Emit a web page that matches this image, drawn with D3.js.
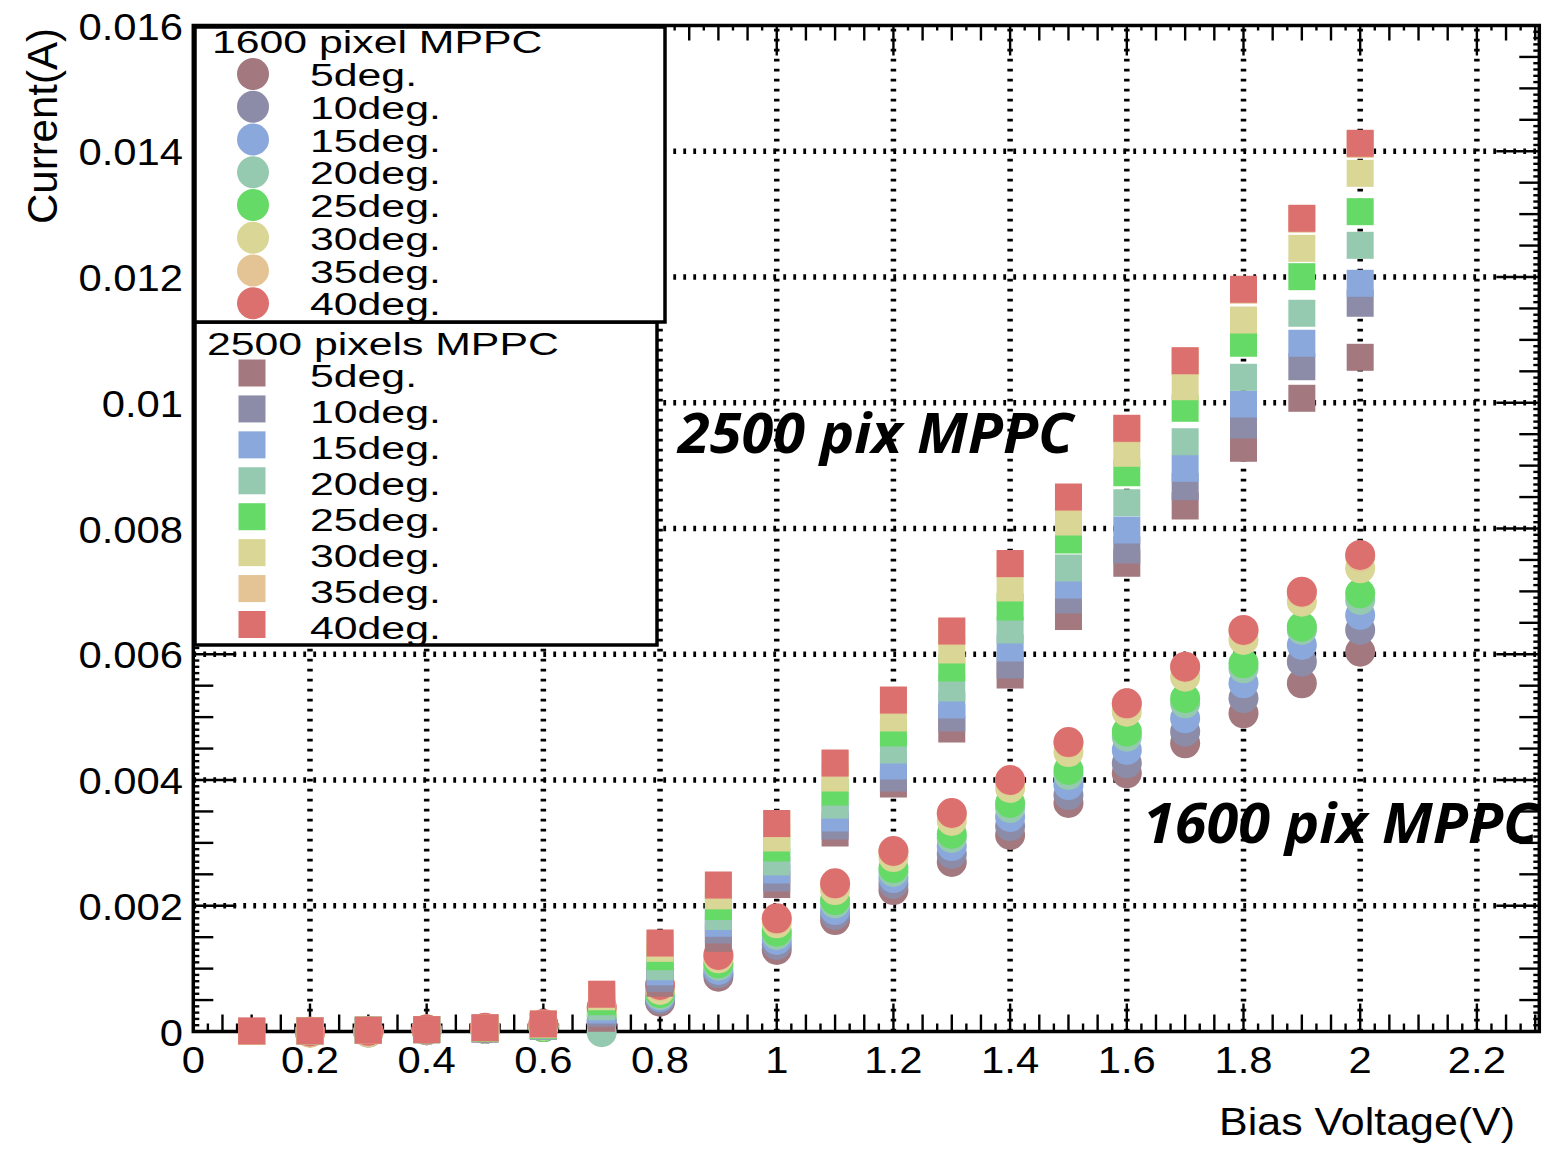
<!DOCTYPE html>
<html>
<head>
<meta charset="utf-8">
<script src="https://cdn.jsdelivr.net/npm/d3@7"></script>
<style>
  body { margin: 0; background: #fff; }
  svg { display: block; }
  text { font-family: "Liberation Sans", Arial, Helvetica, sans-serif; fill: #000; }
</style>
</head>
<body>
<svg id="chart" width="1561" height="1149"></svg>
<script>
// ---- data -------------------------------------------------------------
// bias voltage points (V)
const volt2500 = [0.1,0.2,0.3,0.4,0.5,0.6,0.7,0.8,0.9,1.0,1.1,1.2,1.3,1.4,1.5,1.6,1.7,1.8,1.9,2.0];
const volt1600 = [0.2,0.3,0.4,0.5,0.6,0.7,0.8,0.9,1.0,1.1,1.2,1.3,1.4,1.5,1.6,1.7,1.8,1.9,2.0];

const angleLabels = ["5deg.","10deg.","15deg.","20deg.","25deg.","30deg.","35deg.","40deg."];
const angleColors = ["#a3787f","#8c8ca8","#8aa8dc","#96cab0","#66da66","#dad696","#e4c494","#dc706e"];

// 1600 pixel MPPC current (A), one array per temperature
const i1600_05 = [-0.00001,0,0.00002,0.00004,0.00007,0.00012,0.000474,0.000872,0.001296,0.001773,0.00225,0.002696,0.003125,0.003634,0.004107,0.004584,0.005061,0.005538,0.006041];
const i1600_10 = [-0.00001,0,0.00002,0.00004,0.00007,0.00015,0.000509,0.000926,0.001376,0.001853,0.002346,0.002823,0.003268,0.003761,0.004266,0.004768,0.0053,0.005882,0.006386];
const i1600_15 = [-0.00001,-0.00002,0.00002,0.00004,0.00008,0.00018,0.000549,0.000978,0.001455,0.001932,0.002441,0.00295,0.003412,0.00392,0.004477,0.004981,0.005538,0.006147,0.006624];
const i1600_20 = [-0.00001,0,0.00002,0.00004,0.00008,-0.00001,0.000581,0.001047,0.001535,0.002039,0.002537,0.003078,0.003555,0.00408,0.004689,0.00522,0.005777,0.006386,0.006863];
const i1600_25 = [-0.00001,0,0.00003,0.00005,0.00007,0.00026,0.000612,0.001085,0.001587,0.002091,0.0026,0.003141,0.003634,0.004159,0.004768,0.0053,0.005856,0.006438,0.006969];
const i1600_30 = [-0.00002,-0.00002,0.00003,0.00005,0.00009,0.00031,0.00066,0.001164,0.001721,0.00225,0.002775,0.003348,0.003873,0.004445,0.005086,0.005643,0.006227,0.006836,0.007367];
const i1600_35 = [-0.00002,-0.00001,0.00003,0.00005,0.0001,0.00036,0.00072,0.0012,0.00178,0.00234,0.00286,0.00346,0.00399,0.00459,0.0052,0.00579,0.00637,0.00698,0.00755];
const i1600_40 = [0,0.00001,0.00003,0.00006,0.00012,0.00039,0.00074,0.001217,0.0018,0.002357,0.002871,0.003475,0.004,0.004604,0.00522,0.005802,0.006386,0.006995,0.007579];

// 2500 pixels MPPC current (A), one array per temperature
const i2500_05 = [0,0.00001,0.00002,0.00003,0.00004,0.00008,0.00021,0.000767,0.001482,0.002338,0.003157,0.003936,0.004811,0.00567,0.0066,0.007447,0.008358,0.009276,0.010071,0.010723];
const i2500_10 = [0,0.00001,0.00002,0.00003,0.00004,0.00008,0.000289,0.000846,0.001614,0.002441,0.003268,0.004032,0.004986,0.005829,0.006863,0.007658,0.008665,0.009646,0.010573,0.011582];
const i2500_15 = [0,0.00001,0.00002,0.00003,0.00005,0.00009,0.000342,0.000951,0.001721,0.002569,0.003396,0.004223,0.005193,0.0061,0.007101,0.007976,0.008957,0.00998,0.010946,0.0119];
const i2500_20 = [0,0.00001,0.00002,0.00003,0.00005,0.00009,0.000394,0.001031,0.001829,0.002696,0.003602,0.004477,0.005463,0.006386,0.007372,0.00841,0.00938,0.010405,0.011423,0.012504];
const i2500_25 = [0,0.00001,0.00002,0.00003,0.00005,0.0001,0.000474,0.00119,0.001988,0.002918,0.003809,0.004748,0.005781,0.006751,0.007817,0.008887,0.009912,0.010946,0.012005,0.013039];
const i2500_30 = [0,0.00001,0.00002,0.00003,0.00006,0.00011,0.000553,0.001323,0.002158,0.003078,0.004032,0.004986,0.006068,0.007054,0.008103,0.009196,0.010255,0.011316,0.012456,0.013649];
const i2500_35 = [0,0.00001,0.00002,0.00003,0.00006,0.00012,0.00059,0.0014,0.00232,0.0033,0.00426,0.00526,0.00636,0.00743,0.00849,0.00958,0.01066,0.01179,0.01292,0.01411];
const i2500_40 = [0.00001,0.00001,0.00002,0.00003,0.00006,0.00012,0.000593,0.001408,0.00233,0.003308,0.00427,0.005272,0.00637,0.007443,0.008501,0.009594,0.010669,0.011805,0.012934,0.014127];

const series1600 = [i1600_05,i1600_10,i1600_15,i1600_20,i1600_25,i1600_30,i1600_35,i1600_40];
const series2500 = [i2500_05,i2500_10,i2500_15,i2500_20,i2500_25,i2500_30,i2500_35,i2500_40];

// axis tick labels
const xTickLabels = ["0","0.2","0.4","0.6","0.8","1","1.2","1.4","1.6","1.8","2","2.2"];
const yTickLabels = ["0","0.002","0.004","0.006","0.008","0.01","0.012","0.014","0.016"];

// ---- layout -----------------------------------------------------------
const svg = d3.select("#chart");
const frame = { left: 193.3, right: 1539.3, top: 25.5, bottom: 1031.5 };
const x = d3.scaleLinear().domain([0, 2.307]).range([frame.left, frame.right]);
const y = d3.scaleLinear().domain([0, 0.016]).range([frame.bottom, frame.top]);

const near = (v, step) => Math.abs(v / step - Math.round(v / step)) < 1e-6;

// ---- grid -------------------------------------------------------------
const grid = svg.append("g").attr("stroke", "#000").attr("stroke-width", 5.5)
  .attr("stroke-dasharray", "2.8 7.2");
xTickLabels.forEach((t, i) => {
  const v = i * 0.2;
  if (v === 0) return;
  grid.append("line").attr("x1", x(v)).attr("x2", x(v))
    .attr("y1", frame.bottom).attr("y2", frame.top);
});
yTickLabels.forEach((t, i) => {
  const v = i * 0.002;
  if (v === 0 || i === yTickLabels.length - 1) return;
  grid.append("line").attr("x1", frame.left).attr("x2", frame.right)
    .attr("y1", y(v)).attr("y2", y(v));
});

// ---- ticks on all four sides (pointing into the frame) ---------------
const ticks = svg.append("g").attr("stroke", "#000").attr("stroke-width", 2.4);
d3.range(0, 2.307, 0.025).forEach(v => {
  const lenB = near(v, 0.2) ? 28 : near(v, 0.05) ? 17 : 8;
  const lenT = near(v, 0.2) ? 30 : near(v, 0.05) ? 15 : 5;
  ticks.append("line").attr("x1", x(v)).attr("x2", x(v))
    .attr("y1", frame.bottom).attr("y2", frame.bottom - lenB);
  ticks.append("line").attr("x1", x(v)).attr("x2", x(v))
    .attr("y1", frame.top).attr("y2", frame.top + lenT);
});
d3.range(0, 0.01605, 0.0001).forEach(v => {
  const len = near(v, 0.002) ? 43 : near(v, 0.0005) ? 20 : 6;
  ticks.append("line").attr("x1", frame.left).attr("x2", frame.left + len)
    .attr("y1", y(v)).attr("y2", y(v));
  ticks.append("line").attr("x1", frame.right).attr("x2", frame.right - len)
    .attr("y1", y(v)).attr("y2", y(v));
});

svg.append("rect")
  .attr("x", frame.left).attr("y", frame.top)
  .attr("width", frame.right - frame.left).attr("height", frame.bottom - frame.top)
  .attr("fill", "none").attr("stroke", "#000").attr("stroke-width", 3.5);

// ---- tick labels and titles ------------------------------------------
const wide = 1.13;
xTickLabels.forEach((t, i) => {
  svg.append("text").attr("text-anchor", "middle").attr("font-size", 37)
    .attr("transform", `translate(${x(i * 0.2)},1073) scale(${wide},1)`).text(t);
});
yTickLabels.forEach((t, i) => {
  svg.append("text").attr("text-anchor", "end").attr("font-size", 37)
    .attr("transform", `translate(183,${y(i * 0.002) + 14}) scale(${wide},1)`).text(t);
});
svg.append("text").attr("text-anchor", "end").attr("font-size", 38)
  .attr("transform", `translate(1515,1135) scale(${wide},1)`).text("Bias Voltage(V)");
svg.append("text").attr("text-anchor", "end").attr("font-size", 42)
  .attr("transform", "translate(57,28) rotate(-90)").text("Current(A)");

// ---- markers ----------------------------------------------------------
const marks = svg.append("g");
series1600.forEach((vals, k) => {
  marks.append("g").selectAll("circle").data(vals).join("circle")
    .attr("cx", (d, i) => x(volt1600[i])).attr("cy", d => y(d))
    .attr("r", 15).attr("fill", angleColors[k]);
});
const sq = 27;
series2500.forEach((vals, k) => {
  marks.append("g").selectAll("rect").data(vals).join("rect")
    .attr("x", (d, i) => x(volt2500[i]) - sq / 2).attr("y", d => y(d) - sq / 2)
    .attr("width", sq).attr("height", sq).attr("fill", angleColors[k]);
});

// ---- legends ----------------------------------------------------------
const legendFont = 31, legendWide = 1.38;
function legend(box, title, titlePos, rows, marker) {
  const g = svg.append("g");
  g.append("rect").attr("x", box.x).attr("y", box.y).attr("width", box.w).attr("height", box.h)
    .attr("fill", "#fff").attr("stroke", "#000").attr("stroke-width", 3.5);
  g.append("text").attr("font-size", legendFont)
    .attr("transform", `translate(${titlePos[0]},${titlePos[1]}) scale(${legendWide},1)`).text(title);
  const ry = d3.scalePoint().domain(angleLabels).range([rows.first, rows.last]);
  angleLabels.forEach((lab, k) => {
    const cy = ry(lab);
    if (marker === "circle") {
      g.append("circle").attr("cx", rows.mx).attr("cy", cy).attr("r", 16).attr("fill", angleColors[k]);
    } else {
      g.append("rect").attr("x", rows.mx - 13.5).attr("y", cy - 13.5)
        .attr("width", 27).attr("height", 27).attr("fill", angleColors[k]);
    }
    g.append("text").attr("font-size", legendFont)
      .attr("transform", `translate(310,${cy + rows.dy}) scale(${legendWide},1)`).text(lab);
  });
}
legend({ x: 195, y: 322, w: 462, h: 323 }, "2500 pixels MPPC", [207, 355],
       { first: 373, last: 624.5, mx: 252, dy: 14 }, "square");
legend({ x: 195, y: 27, w: 470, h: 295 }, "1600 pixel MPPC", [212, 53],
       { first: 74, last: 303.3, mx: 253, dy: 12 }, "circle");

// ---- annotations ------------------------------------------------------
const note = { "font-family": "'Open Sans', 'DejaVu Sans', sans-serif", "font-weight": "bold",
               "font-style": "italic", "font-size": 56 };
[["2500 pix MPPC", 678, 453], ["1600 pix MPPC", 1143, 843]].forEach(([t, tx, ty]) => {
  const el = svg.append("text").text(t)
    .attr("transform", `translate(${tx},${ty}) scale(1.03,1)`);
  Object.entries(note).forEach(([k, v]) => el.style(k, v));
});
</script>
</body>
</html>
